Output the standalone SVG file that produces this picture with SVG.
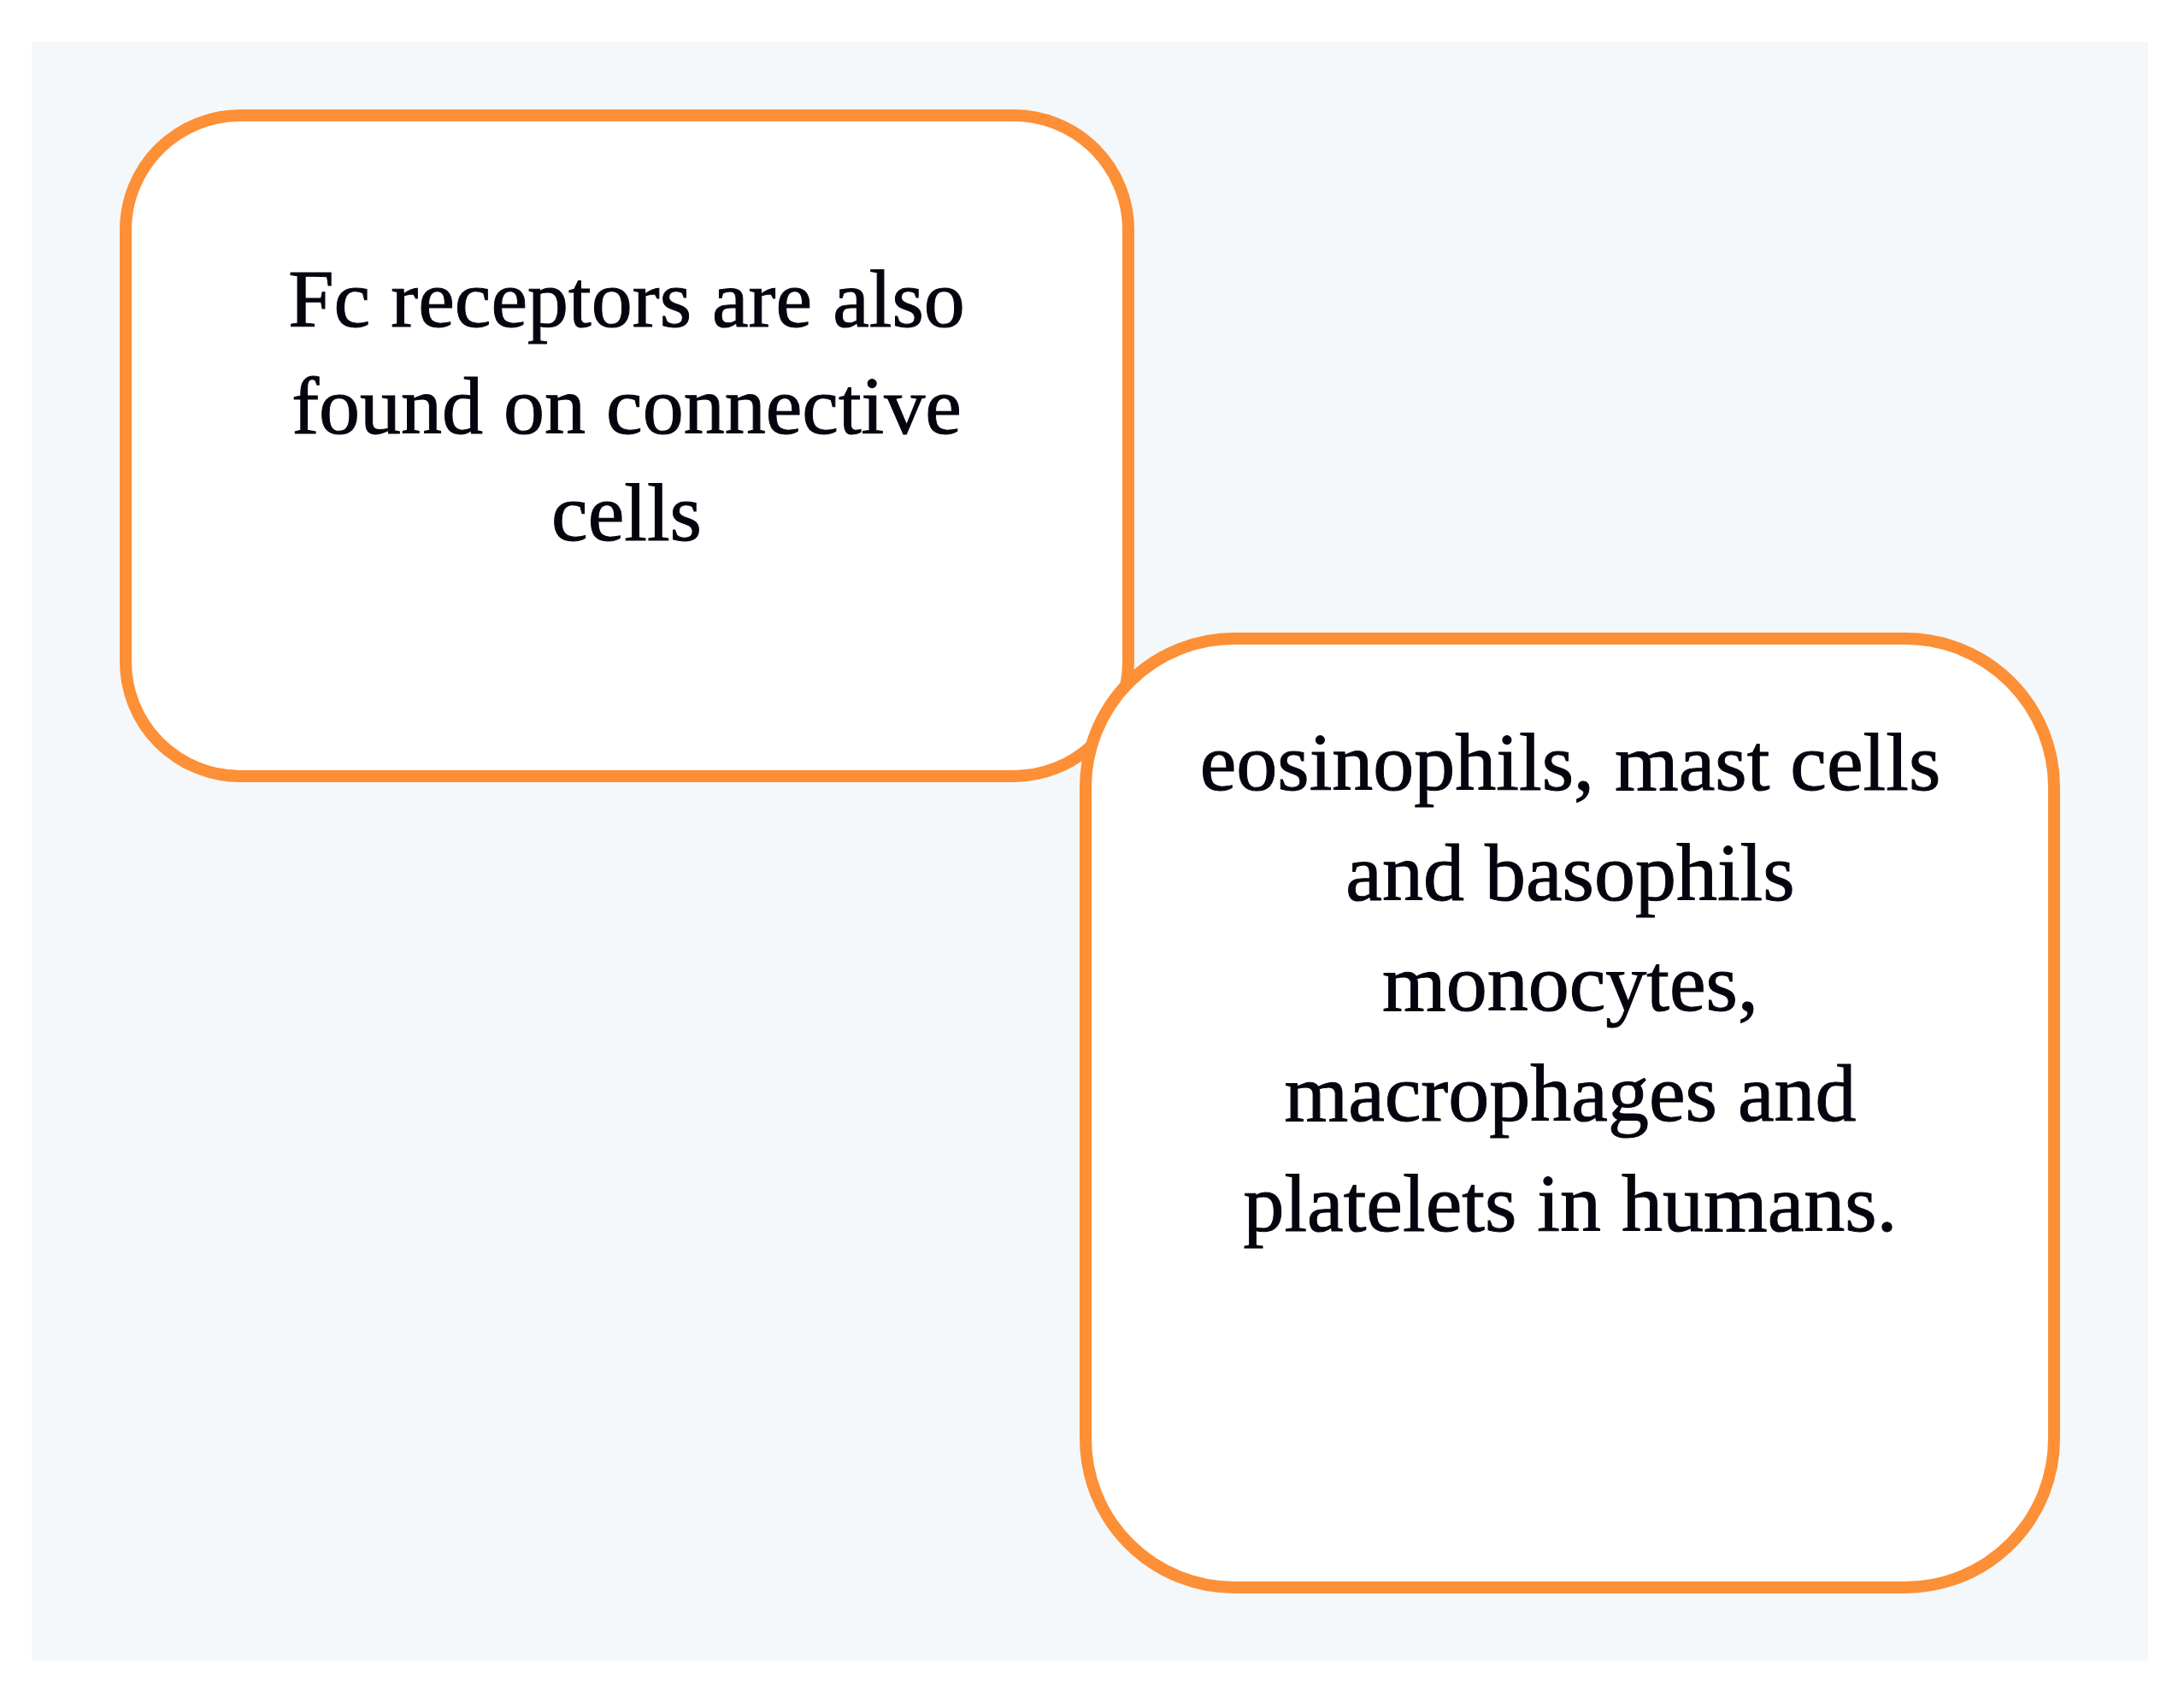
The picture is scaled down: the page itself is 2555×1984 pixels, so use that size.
<svg xmlns="http://www.w3.org/2000/svg" width="2555" height="1984" viewBox="0 0 2555 1984">
<style>
.box{fill:#ffffff;stroke:#fd8f36;stroke-width:14}
.lbl{font-family:"Liberation Serif","Times New Roman",serif;font-size:96px;fill:#050510;stroke:#050510;stroke-width:1;text-anchor:middle}
</style>
<rect x="0" y="0" width="2555" height="1984" fill="#ffffff"/>
<rect x="37" y="49" width="2476" height="1894" fill="#f5f8fa"/>
<g id="node1">
<rect class="box" x="147" y="135" width="1173" height="773" rx="134" ry="134"/>
<text class="lbl"><tspan x="733" y="382">Fc receptors are also</tspan><tspan x="733" y="507">found on connective</tspan><tspan x="733" y="632">cells</tspan></text>
</g>
<g id="node2">
<rect class="box" x="1270" y="747" width="1133" height="1110" rx="174" ry="174"/>
<text class="lbl"><tspan x="1837" y="924">eosinophils, mast cells</tspan><tspan x="1837" y="1053">and basophils</tspan><tspan x="1837" y="1182">monocytes,</tspan><tspan x="1837" y="1311">macrophages and</tspan><tspan x="1837" y="1440">platelets in humans.</tspan></text>
</g>
<g id="connectors"></g>
</svg>
